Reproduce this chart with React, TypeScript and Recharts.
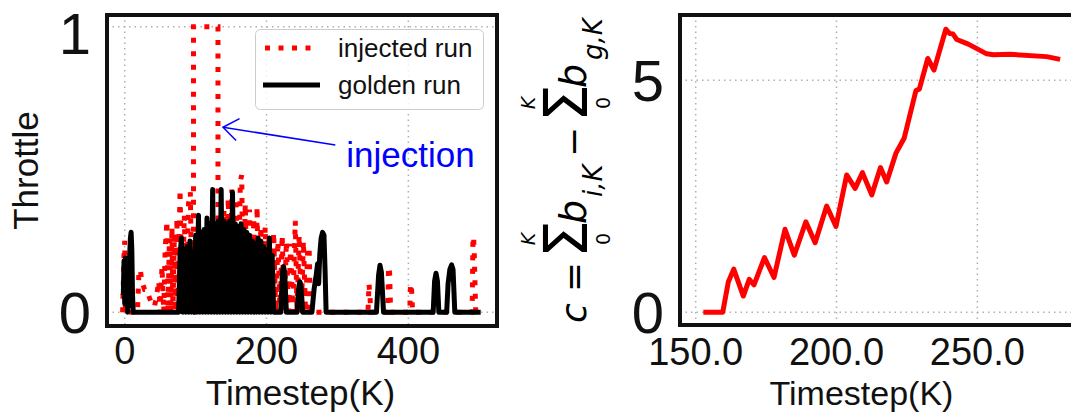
import React from 'react';
import { LineChart, Line, XAxis, YAxis, CartesianGrid, ReferenceArea, ReferenceLine, Legend } from 'recharts';

// golden run throttle, [timestep, throttle]
const goldenRun: [number, number][] = [
  [-2, 0.06], [-1, 0.18], [0, 0.03], [1, 0.19], [2, 0.04], [3, 0.14], [4, 0], [5, 0.1], [6, 0.02],
  [7, 0.2], [8, 0.26], [9, 0.28], [10, 0.22], [11, 0.06], [12, 0], [76, 0],
  [78, 0.2], [80, 0.26], [82, 0], [84, 0.22], [86, 0], [88, 0.23], [90, 0], [92, 0.25], [94, 0],
  [96, 0.21], [98, 0], [100, 0.27], [102, 0], [104, 0.34], [106, 0], [108, 0.28], [110, 0],
  [112, 0.29], [114, 0], [116, 0.33], [118, 0], [120, 0.31], [122, 0], [124, 0.43], [126, 0],
  [128, 0.31], [130, 0], [132, 0.32], [134, 0], [136, 0.43], [138, 0], [140, 0.32], [142, 0],
  [144, 0.31], [146, 0], [148, 0.32], [150, 0], [152, 0.42], [154, 0], [156, 0.31], [158, 0],
  [160, 0.3], [162, 0], [164, 0.31], [166, 0], [168, 0.29], [170, 0], [172, 0.28], [174, 0],
  [176, 0.27], [178, 0], [180, 0.25], [182, 0], [184, 0.24], [186, 0], [188, 0.26], [190, 0],
  [192, 0.25], [194, 0], [196, 0.23], [198, 0], [200, 0.22], [202, 0], [204, 0.26], [206, 0],
  [208, 0.2], [210, 0],
  [220, 0], [222.5, 0.14], [224, 0.16], [225.5, 0.14], [228, 0],
  [243, 0], [245.5, 0.09], [247, 0.107], [248.5, 0.09], [251, 0],
  [264, 0], [267, 0.08], [270, 0.13], [272, 0.17], [273.5, 0.1], [275, 0.2], [277, 0.26],
  [279, 0.28], [281, 0.27], [282.5, 0.15], [284, 0],
  [355, 0], [358, 0.13], [360, 0.165], [362, 0.14], [365, 0],
  [435, 0], [437, 0.11], [439, 0.137], [441, 0.11], [443, 0],
  [454, 0], [456, 0.1], [458.5, 0.15], [461, 0.166], [463, 0.15], [465.5, 0], [502, 0],
];

// injected run throttle, [timestep, throttle]
const injectedRun: [number, number][] = [
  [-3, 0], [-1, 0.2], [0, 0.25], [1, 0], [3, 0.15], [5, 0], [18, 0],
  [20, 0.14], [22, 0.15], [24, 0.11], [28, 0.08], [31, 0.08], [35, 0.05], [38, 0.03], [42, 0.02],
  [45, 0.06], [48, 0.11], [50, 0], [52.5, 0.16], [55, 0], [57, 0.22], [59.5, 0.32], [61, 0],
  [63, 0.26], [65, 0], [66.6, 0.3], [68, 0], [70, 0.27], [72, 0], [73.6, 0.33], [75, 0],
  [78, 0.43], [81, 0], [84, 0.34], [87, 0], [90, 0.38], [92.5, 0.42], [95, 0],
  [97, 0], [97, 1], [131.5, 1], [131.5, 0],
  [134, 0.3], [137, 0], [140, 0.36], [143, 0], [146, 0.4], [149, 0], [151, 0.43], [154, 0],
  [157, 0.4], [160, 0], [163, 0.46], [165, 0.48], [167, 0], [170, 0.38], [173, 0], [176, 0.36],
  [179, 0], [182, 0.33], [185, 0], [186.6, 0.37], [189, 0], [192, 0.3], [195, 0], [198, 0.3],
  [201, 0], [204, 0.28], [207, 0], [210, 0.28], [213, 0], [216, 0.25], [219, 0], [222, 0.27],
  [225, 0], [228, 0.25], [231, 0], [234, 0.24], [237, 0], [240.5, 0.32], [243, 0], [246, 0.27],
  [249, 0], [252, 0.25], [255, 0], [258, 0.22], [260, 0.23], [262, 0], [343, 0],
  [344.5, 0.1], [346, 0.05], [347, 0], [371, 0], [372, 0.16], [373.5, 0.14], [375, 0],
  [402, 0], [403, 0.1], [404.5, 0.08], [406, 0], [490, 0], [491, 0.25], [492, 0.265],
  [493, 0.2], [495, 0],
];

// cumulative difference c
const diffSteps = [
  152.7, 159.6, 161.6, 163.5, 166.9, 169.0, 170.7, 174.4, 177.8, 181.7, 185.0, 189.1, 192.4,
  196.5, 199.8, 203.6, 206.6, 209.2, 212.5, 215.6, 217.8, 221.1, 224.0, 228.2, 229.4, 232.4,
  234.6, 238.8, 240.1, 241.3, 242.7, 246.8, 253.3, 255.7, 261.6, 274.6, 279.4,
];
const diffValues = [
  0, 0, 0.66, 0.93, 0.35, 0.71, 0.59, 1.18, 0.75, 1.79, 1.23, 1.95, 1.5,
  2.29, 1.85, 2.96, 2.67, 3.01, 2.53, 3.12, 2.81, 3.43, 3.75, 4.78, 4.81, 5.47,
  5.22, 6.1, 6.01, 6.0, 5.88, 5.78, 5.57, 5.55, 5.56, 5.51, 5.45,
];

const stepTicks = [0, 200, 400];
const throttleTicks = [0, 1];
const diffStepTicks = [150, 200, 250];
const diffTicks = [0, 5];

const stepDomain: [number, number] = [-25, 525];
const throttleDomain: [number, number] = [-0.048, 1.041];
const diffStepDomain: [number, number] = [144.42, 290];
const diffDomain: [number, number] = [-0.274, 6.407];

// annotation arrow: tip on the injected spike, tail near the text
const injectionTip = { t: 138.6, v: 0.648 };
const injectionTail = { t: 297, v: 0.586 };

const goldenData = goldenRun.map(([t, v]) => ({ t, v }));
const injectedData = injectedRun.map(([t, v]) => ({ t, v }));
const diffData = diffSteps.map((t, i) => ({ t, c: diffValues[i] }));

const FONT = 'Liberation Sans';
const xTick = { fontSize: 38, fill: '#111', fontFamily: FONT };
const yTick = { fontSize: 58, fill: '#111', fontFamily: FONT };
const gridProps = { stroke: '#b0b0b0', strokeDasharray: '1.5 4', strokeWidth: 1.5 };

const LeftXTitle = () => (
  <text x={300.5} y={405} textAnchor="middle" fontSize={35} fontFamily={FONT} fill="#111">Timestep(K)</text>
);

const ThrottleTitle = () => (
  <text transform="translate(38,170.5) rotate(-90)" textAnchor="middle" fontSize={35} fontFamily={FONT} fill="#111">
    Throttle
  </text>
);

const RightXTitle = () => (
  <text x={361.5} y={405} textAnchor="middle" fontSize={34} fontFamily={FONT} fill="#111">Timestep(K)</text>
);

// c = sum_0^K b_{i,K} - sum_0^K b_{g,K}, drawn rotated
const MathTitle = () => (
  <g transform="translate(86,322) rotate(-90)" fontFamily="DejaVu Sans" fill="#000">
    <text x={-1} y={0} fontSize={36} fontStyle="italic">c</text>
    <text x={30} y={0} fontSize={36}>=</text>
    <text x={83} y={1} fontSize={60} textAnchor="middle">Σ</text>
    <text x={83} y={-51} fontSize={19} textAnchor="middle" fontStyle="italic">K</text>
    <text x={83} y={24} fontSize={19} textAnchor="middle">0</text>
    <text x={98} y={0} fontSize={38} fontStyle="italic">b</text>
    <text x={125} y={16} fontSize={26} fontStyle="italic">i,K</text>
    <text x={165} y={0} fontSize={36}>−</text>
    <text x={219} y={1} fontSize={60} textAnchor="middle">Σ</text>
    <text x={219} y={-51} fontSize={19} textAnchor="middle" fontStyle="italic">K</text>
    <text x={219} y={24} fontSize={19} textAnchor="middle">0</text>
    <text x={234} y={0} fontSize={38} fontStyle="italic">b</text>
    <text x={262} y={16} fontSize={26} fontStyle="italic">g,K</text>
  </g>
);

const ThrottleLegend = () => (
  <svg width={230} height={82}>
    <rect x={0.5} y={0.5} width={228} height={80} rx={5} fill="rgba(255,255,255,0.8)" stroke="#cccccc" />
    <line x1={10} x2={58} y1={19} y2={19} stroke="#ff0000" strokeWidth={5} strokeDasharray="5 8.5" />
    <text x={83} y={28} fontSize={26} fontFamily={FONT} fill="#111">injected run</text>
    <line x1={8} x2={65} y1={56} y2={56} stroke="#000" strokeWidth={5} />
    <text x={83} y={64.5} fontSize={26} fontFamily={FONT} fill="#111">golden run</text>
  </svg>
);

const InjectionArrow = (p: any) => {
  const { x1, y1, x2, y2 } = p;
  const len = Math.hypot(x1 - x2, y1 - y2) || 1;
  const dx = (x1 - x2) / len;
  const dy = (y1 - y2) / len;
  const L = 15;
  const W = 11;
  const a = { x: x2 + L * dx - W * dy, y: y2 + L * dy + W * dx };
  const b = { x: x2 + L * dx + W * dy, y: y2 + L * dy - W * dx };
  return (
    <g>
      <line x1={x1} y1={y1} x2={x2} y2={y2} stroke="#0000ff" strokeWidth={1.5} />
      <polyline points={`${a.x},${a.y} ${x2},${y2} ${b.x},${b.y}`} fill="none" stroke="#0000ff" strokeWidth={1.5} />
      <text x={x1 + 11} y={y1 + 22} fontSize={35} fontFamily={FONT} fill="#0000ff">injection</text>
    </g>
  );
};

export default function App() {
  return (
    <div style={{ position: 'absolute', left: 0, top: 0, width: 1071, height: 419, overflow: 'hidden', background: '#fff' }}>
      <div style={{ position: 'absolute', left: 0, top: 0 }}>
        <LineChart width={520} height={419} margin={{ top: 15, right: 23, bottom: 43, left: 57 }}>
          <CartesianGrid {...gridProps} />
          <XAxis type="number" dataKey="t" domain={stepDomain} ticks={stepTicks} allowDataOverflow
            axisLine={false} tickLine={false} tickSize={0} tickMargin={11} height={50} tick={xTick} label={LeftXTitle} />
          <YAxis type="number" domain={throttleDomain} ticks={throttleTicks} allowDataOverflow
            axisLine={false} tickLine={false} tickSize={0} tickMargin={16} width={50} tick={yTick} label={ThrottleTitle} />
          <ReferenceArea x1={stepDomain[0]} x2={stepDomain[1]} y1={throttleDomain[0]} y2={throttleDomain[1]}
            fill="none" fillOpacity={0} stroke="#111" strokeWidth={4} ifOverflow="visible" />
          <Line data={injectedData} dataKey="v" stroke="#ff0000" strokeWidth={5} strokeDasharray="5 8.5"
            dot={false} activeDot={false} isAnimationActive={false} name="injected run" />
          <Line data={goldenData} dataKey="v" stroke="#000" strokeWidth={5} strokeLinejoin="round"
            dot={false} activeDot={false} isAnimationActive={false} name="golden run" />
          <ReferenceLine
            segment={[{ x: injectionTail.t, y: injectionTail.v }, { x: injectionTip.t, y: injectionTip.v }]}
            shape={InjectionArrow} ifOverflow="visible" />
          <Legend layout="horizontal" verticalAlign="middle" content={ThrottleLegend}
            wrapperStyle={{ position: 'absolute', left: 255, top: 29, width: 230, height: 82 }} />
        </LineChart>
      </div>
      <div style={{ position: 'absolute', left: 500, top: 0 }}>
        <LineChart width={620} height={419} data={diffData} margin={{ top: 15, right: 30, bottom: 44, left: 130 }}>
          <CartesianGrid {...gridProps} />
          <XAxis type="number" dataKey="t" domain={diffStepDomain} ticks={diffStepTicks} allowDataOverflow
            tickFormatter={(v: number) => v.toFixed(1)}
            axisLine={false} tickLine={false} tickSize={0} tickMargin={13} height={50} tick={xTick} label={RightXTitle} />
          <YAxis type="number" domain={diffDomain} ticks={diffTicks} allowDataOverflow
            axisLine={false} tickLine={false} tickSize={0} tickMargin={16} width={50} tick={yTick} label={MathTitle} />
          <ReferenceArea x1={diffStepDomain[0]} x2={diffStepDomain[1]} y1={diffDomain[0]} y2={diffDomain[1]}
            fill="none" fillOpacity={0} stroke="#111" strokeWidth={4} ifOverflow="visible" />
          <Line dataKey="c" stroke="#ff0000" strokeWidth={5} strokeLinejoin="round"
            dot={false} activeDot={false} isAnimationActive={false} />
        </LineChart>
      </div>
    </div>
  );
}
